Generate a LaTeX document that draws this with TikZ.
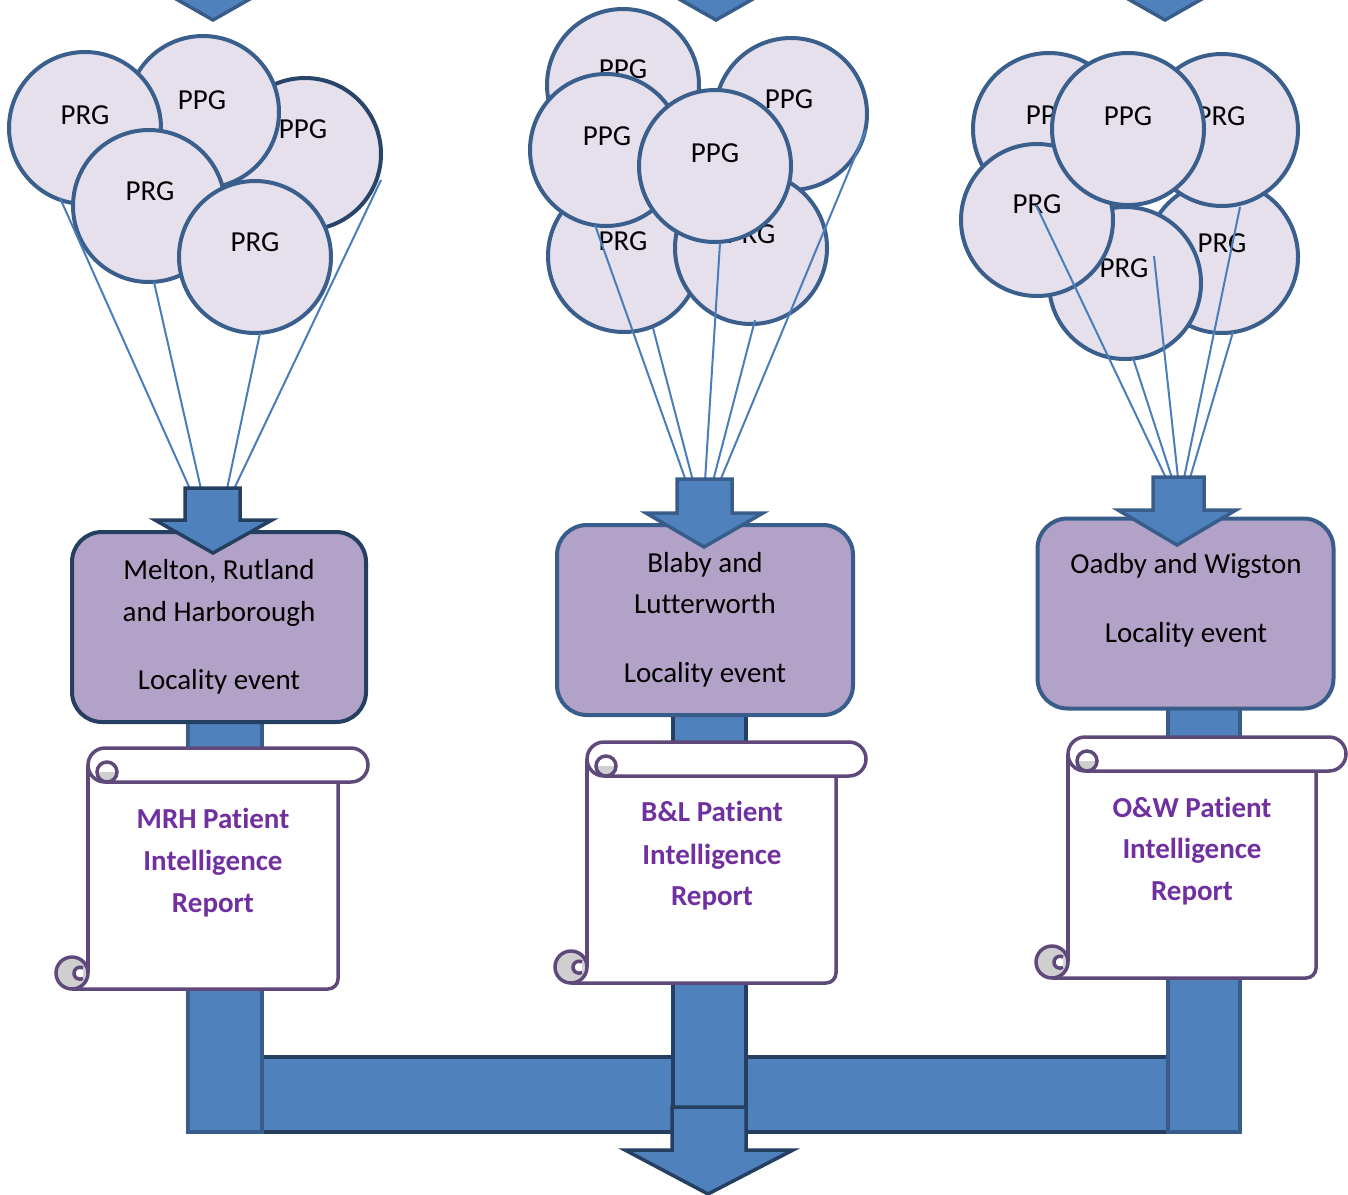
\documentclass[tikz,border=0pt]{standalone}
\usepackage{fontspec}
\setmainfont{Carlito}[Ligatures=NoCommon]
\definecolor{arrowfill}{HTML}{4F81BD}
\definecolor{arrowline}{HTML}{385D8A}
\definecolor{darkline}{HTML}{243F60}
\definecolor{balloonfill}{HTML}{E5E0EC}
\definecolor{balloonline}{HTML}{3A5F8C}
\definecolor{localfill}{HTML}{B3A2C7}
\definecolor{scrollline}{HTML}{5F497A}
\definecolor{reporttext}{HTML}{7030A0}
\definecolor{curlgrey}{HTML}{CFCFCF}
\definecolor{stringcol}{HTML}{4A7EBB}
\newcommand\drawscroll[5]{% L T R R2 B
  \fill[white] (#1,{#2+17}) rectangle (#4,#5);
  \draw[scrl, rounded corners=5pt] (#4,{#2+30}) -- (#4,#5) -- ({#1-16},#5);
  \draw[scrl] (#1,{#2+17}) -- (#1,{#5-16});
  \draw[scrl, fill=curlgrey] ({#1-16},{#5-16}) circle (16);
  \draw[scrl, fill=white] ({#1-5},{#5-21}) arc[start angle=-60, end angle=-300, radius=6];
  \draw[scrl, fill=white, rounded corners=8.5pt] (#1,#2) rectangle (#3,{#2+34});
  \begin{scope}
    \clip ({#1+8},{#2+24}) rectangle ({#1+30},{#2+36});
    \fill[curlgrey] ({#1+19},{#2+24}) circle (10);
  \end{scope}
  \draw[scrl] ({#1+19},{#2+24}) circle (10);
}
\begin{document}
\begin{tikzpicture}[x=0.5pt,y=-0.5pt,
  balloon/.style={circle, draw=balloonline, fill=balloonfill, line width=2pt, minimum size=76pt, inner sep=0pt},
  txt/.style={font=\fontsize{14.5}{17}\selectfont, anchor=base, inner sep=0pt, text=black},
  rtxt/.style={font=\fontsize{14.5}{17}\selectfont\bfseries, anchor=base, inner sep=0pt, text=reporttext},
  locbox/.style={rectangle, rounded corners=15pt, fill=localfill, draw=arrowline, line width=2pt, minimum width=147pt, minimum height=95pt, inner sep=0pt},
  blockarr/.style={fill=arrowfill, draw=arrowline, line width=1.75pt, line join=miter},
  darkarr/.style={fill=arrowfill, draw=darkline, line width=1.75pt, line join=miter},
  scrl/.style={draw=scrollline, line width=1.75pt},
  strg/.style={draw=stringcol, line width=1pt}]
\useasboundingbox (0,0) rectangle (1348,1194);
\clip (0,0) rectangle (1348,1194);

% top partial arrows
\foreach \tx/\nm in {213/ta, 716/tb, 1165/tc}{
  \draw[blockarr] (\tx-27,-60) -- (\tx+27,-60) -- (\tx+27,-13) -- (\tx+58,-13) -- (\tx,20) -- (\tx-58,-13) -- (\tx-27,-13) -- cycle;
}

% horizontal collecting bar
\draw[darkarr] (188,1057) rectangle (1240,1132);
% vertical bars
\draw[blockarr] (188,700) rectangle (262,1132);
\draw[darkarr] (673,700) rectangle (746,1108);
\draw[blockarr] (1168,700) rectangle (1240,1132);

% locality boxes
\node[locbox, draw=darkline] (loc1) at (219,627) {};
\node[locbox, minimum width=148pt] (loc2) at (705,620) {};
\node[locbox, minimum width=148pt] (loc3) at (1185.5,613.5) {};
\node[txt] (l1a) at (219,579) {Melton, Rutland};
\node[txt] (l1b) at (219,621) {and Harborough};
\node[txt] (l1c) at (219,689) {Locality event};
\node[txt] (l2a) at (705,572) {Blaby and};
\node[txt] (l2b) at (705,613) {Lutterworth};
\node[txt] (l2c) at (705,682) {Locality event};
\node[txt] (l3a) at (1186,573) {Oadby and Wigston};
\node[txt] (l3c) at (1186,642) {Locality event};

% scrolls
\drawscroll{88}{748}{368}{338}{989}
\drawscroll{587}{742}{866}{836}{983}
\drawscroll{1068}{737}{1346}{1316}{978}
\node[rtxt] (r1a) at (213,828) {MRH Patient};
\node[rtxt] (r1b) at (213,870) {Intelligence};
\node[rtxt] (r1c) at (213,912) {Report};
\node[rtxt] (r2a) at (712,821) {B\&L Patient};
\node[rtxt] (r2b) at (712,864) {Intelligence};
\node[rtxt] (r2c) at (712,905) {Report};
\node[rtxt] (r3a) at (1192,817) {O\&W Patient};
\node[rtxt] (r3b) at (1192,858) {Intelligence};
\node[rtxt] (r3c) at (1192,900) {Report};

% bottom arrow
\draw[darkarr] (672,1107) -- (746,1107) -- (746,1150) -- (793,1150) -- (708,1194) -- (625,1150) -- (672,1150) -- cycle;

% balloons group 1
\node[balloon, draw=darkline!80!balloonline] (c3) at (305,154) {};
\node[txt] (t3) at (303,138) {PPG};
\node[balloon] (c2) at (203,112) {};
\node[txt] (t2) at (202,109) {PPG};
\node[balloon] (c1) at (85,128) {};
\node[txt] (t1) at (85,124) {PRG};
\node[balloon] (c4) at (149,206) {};
\node[txt] (t4) at (150,200) {PRG};
\node[balloon] (c5) at (255,257) {};
\node[txt] (t5) at (255,251) {PRG};

% balloons group 2
\node[balloon] (d1) at (623,85) {};
\node[txt] (u1) at (623,78) {PPG};
\node[balloon] (d2) at (791,114) {};
\node[txt] (u2) at (789,108) {PPG};
\node[balloon] (d3) at (624,256) {};
\node[txt] (u3) at (623,250) {PRG};
\node[balloon] (d4) at (751,248) {};
\node[txt] (u4) at (751,243) {PRG};
\node[balloon] (d5) at (606,150) {};
\node[txt] (u5) at (607,145) {PPG};
\node[balloon] (d6) at (715,166) {};
\node[txt] (u6) at (715,162) {PPG};

% balloons group 3
\node[balloon] (e1) at (1049,129) {};
\node[txt] (v1) at (1050,124) {PPG};
\node[balloon] (e6) at (1222,257) {};
\node[txt] (v6) at (1222,252) {PRG};
\node[balloon] (e3) at (1222,130) {};
\node[txt] (v3) at (1221,125) {PRG};
\node[balloon] (e5) at (1125,283) {};
\node[txt] (v5) at (1124,277) {PRG};
\node[balloon] (e4) at (1037,220) {};
\node[txt] (v4) at (1037,213) {PRG};
\node[balloon] (e2) at (1128,129) {};
\node[txt] (v2) at (1128,125) {PPG};

% string anchor points
\coordinate (g1a) at (60,198);  \coordinate (h1a) at (190,489);
\coordinate (g1b) at (154,282); \coordinate (h1b) at (201,489);
\coordinate (g1c) at (260,333); \coordinate (h1c) at (227,489);
\coordinate (g1d) at (381,180); \coordinate (h1d) at (234,489);
\coordinate (g2a) at (595,225); \coordinate (h2a) at (686,481);
\coordinate (g2b) at (653,328); \coordinate (h2b) at (693,481);
\coordinate (g2c) at (720,243); \coordinate (h2c) at (705,481);
\coordinate (g2d) at (755,320); \coordinate (h2d) at (713,481);
\coordinate (g2e) at (866,130); \coordinate (h2e) at (720,481);
\coordinate (g3a) at (1036,205); \coordinate (h3a) at (1166,478);
\coordinate (g3b) at (1133,358); \coordinate (h3b) at (1172,478);
\coordinate (g3c) at (1154,256); \coordinate (h3c) at (1178,478);
\coordinate (g3d) at (1240,207); \coordinate (h3d) at (1184,478);
\coordinate (g3e) at (1233,332); \coordinate (h3e) at (1190,478);
\foreach \s in {1a,1b,1c,1d,2a,2b,2c,2d,2e,3a,3b,3c,3d,3e}{
  \draw[strg] (g\s) -- (h\s);
}

% arrows into locality boxes
\draw[darkarr] (185,488) -- (240,488) -- (240,520) -- (272,520) -- (213,553) -- (155,520) -- (185,520) -- cycle;
\draw[blockarr] (677,479) -- (732,479) -- (732,513) -- (763,513) -- (704,547) -- (646,513) -- (677,513) -- cycle;
\draw[blockarr] (1153,477) -- (1204,477) -- (1204,510) -- (1236,510) -- (1177,545) -- (1118,510) -- (1153,510) -- cycle;
\end{tikzpicture}
\end{document}
